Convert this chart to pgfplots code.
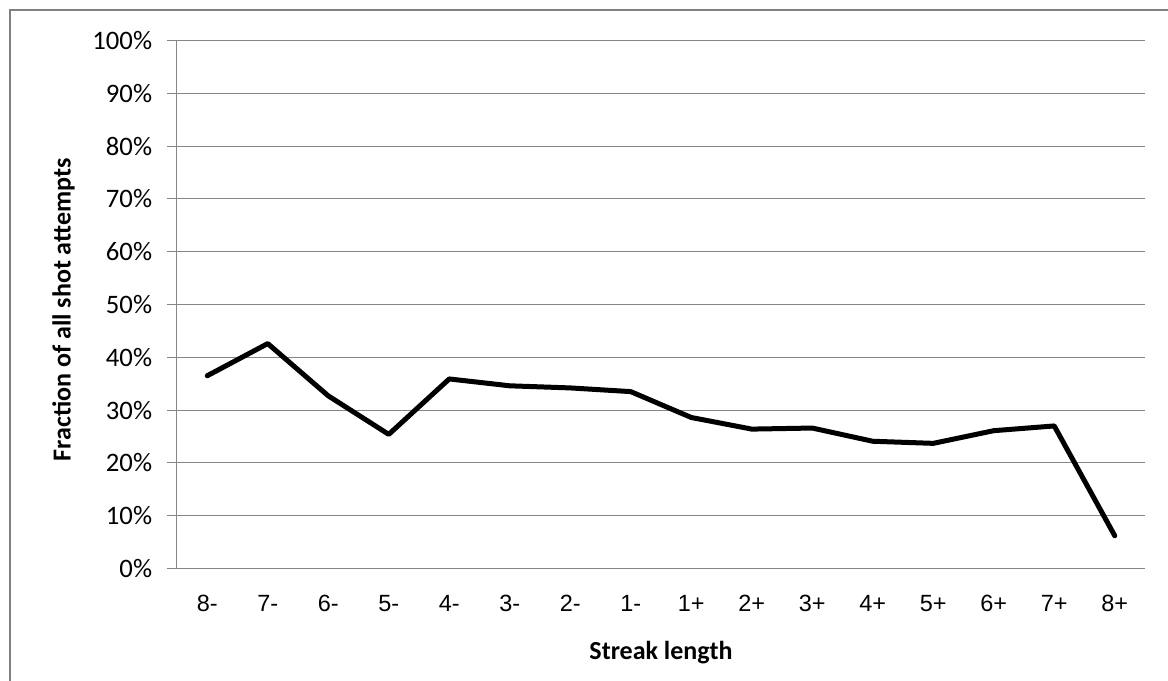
\documentclass[border=0pt]{standalone}
\usepackage{pgfplots}
\pgfplotsset{compat=1.18}
\usepackage{fontspec}
\setmainfont{Carlito}
\newfontfamily\arialfont{Liberation Sans}
\definecolor{gridgray}{RGB}{134,134,134}
\definecolor{framegray}{RGB}{128,128,128}

\begin{document}
\begin{tikzpicture}
  \useasboundingbox (-132.75pt,-84.375pt) rectangle (743.25pt,426.375pt);
  \draw[framegray, line width=1.5pt] (-125.25pt,-100pt) -- (-125.25pt,418.9pt) -- (800pt,418.9pt);
  \begin{axis}[
      scale only axis,
      width=726pt,
      height=396pt,
      xmin=-0.5, xmax=15.5,
      ymin=0, ymax=100,
      axis x line*=bottom,
      axis y line*=left,
      axis line style={draw=gridgray, line width=0.75pt, -},
      tick align=outside,
      xtick={0,...,15},
      xticklabels={8-,7-,6-,5-,4-,3-,2-,1-,1+,2+,3+,4+,5+,6+,7+,8+},
      xtick style={draw=none},
      minor xtick={-0.5,0.5,...,15.5},
      minor tick length=7.5pt,
      major tick length=7.5pt,
      ytick={0,10,...,100},
      yticklabel={\pgfmathprintnumber{\tick}\%},
      ytick style={draw=gridgray, line width=0.75pt},
      minor tick style={draw=gridgray, line width=0.75pt},
      ymajorgrids,
      grid style={draw=gridgray, line width=0.75pt},
      /pgf/number format/assume math mode=true,
      yticklabel style={font=\fontsize{20pt}{24pt}\selectfont, inner sep=0pt, xshift=-11pt},
      xticklabel style={font=\arialfont\fontsize{17.6pt}{21pt}\selectfont, inner sep=0pt, anchor=north, yshift=-12.5pt},
      xlabel={Streak length},
      ylabel={Fraction of all shot attempts},
      xlabel style={font=\bfseries\fontsize{19.5pt}{23pt}\selectfont, at={(axis description cs:0.5,-0.159)}, anchor=center},
      ylabel style={font=\bfseries\fontsize{19.5pt}{23pt}\selectfont, at={(axis description cs:-0.1173,0.49)}, anchor=center, rotate=0},
    ]
    \addplot[black, line width=3.75pt, line join=round, line cap=round, mark=none] coordinates {
      (0,36.5) (1,42.6) (2,32.7) (3,25.4) (4,35.9) (5,34.6) (6,34.2) (7,33.5)
      (8,28.6) (9,26.4) (10,26.6) (11,24.1) (12,23.7) (13,26.1) (14,27.0) (15,6.2)
    };
  \end{axis}
\end{tikzpicture}
\end{document}
